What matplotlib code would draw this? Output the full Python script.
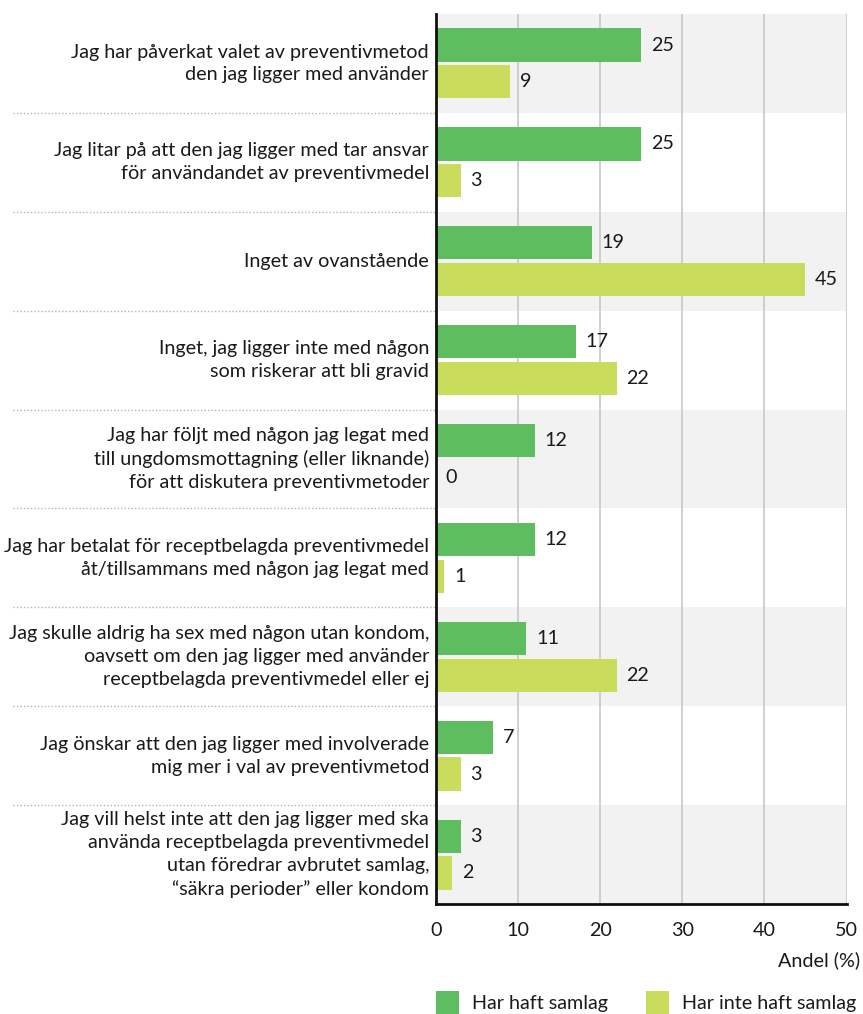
import matplotlib
matplotlib.use("Agg")
import matplotlib.pyplot as plt
from matplotlib.patches import Rectangle
import matplotlib.transforms as mtransforms

plt.rcParams['font.family'] = ['Lato', 'DejaVu Sans']

categories = [
    "Jag har påverkat valet av preventivmetod\nden jag ligger med använder",
    "Jag litar på att den jag ligger med tar ansvar\nför användandet av preventivmedel",
    "Inget av ovanstående",
    "Inget, jag ligger inte med någon\nsom riskerar att bli gravid",
    "Jag har följt med någon jag legat med\ntill ungdomsmottagning (eller liknande)\nför att diskutera preventivmetoder",
    "Jag har betalat för receptbelagda preventivmedel\nåt/tillsammans med någon jag legat med",
    "Jag skulle aldrig ha sex med någon utan kondom,\noavsett om den jag ligger med använder\nreceptbelagda preventivmedel eller ej",
    "Jag önskar att den jag ligger med involverade\nmig mer i val av preventivmetod",
    "Jag vill helst inte att den jag ligger med ska\nanvända receptbelagda preventivmedel\nutan föredrar avbrutet samlag,\n“säkra perioder” eller kondom",
]
har_haft = [25, 25, 19, 17, 12, 12, 11, 7, 3]
har_inte_haft = [9, 3, 45, 22, 0, 1, 22, 3, 2]
series_names = ["Har haft samlag", "Har inte haft samlag"]
xticks = [0, 10, 20, 30, 40, 50]
xlabel = "Andel (%)"

GREEN = "#5dbd5f"
YELLOW = "#c9dc5b"
BAND = "#f1f2f1"
TXT = "#1a1a1a"
FS = 14.2

W, H = 863, 1014
fig = plt.figure(figsize=(W / 100, H / 100), dpi=100)
ax_left, ax_right = 436 / W, 846.5 / W
ax_top, ax_bottom = 1 - 14 / H, 1 - 904 / H
ax = fig.add_axes([ax_left, ax_bottom, ax_right - ax_left, ax_top - ax_bottom])

n = len(categories)
ax.set_ylim(n - 0.5, -0.5)
ax.set_xlim(0, 50)

for i in range(n):
    if i % 2 == 0:
        ax.axhspan(i - 0.5, i + 0.5, color=BAND, zorder=0, lw=0)

for t in xticks[1:]:
    ax.axvline(t, color="#c4c4c4", lw=1.1, zorder=1)

bh = 0.335
off = 0.186
ys = list(range(n))
b1 = ax.barh([y - off for y in ys], har_haft, height=bh, color=GREEN, zorder=2)
b2 = ax.barh([y + off for y in ys], har_inte_haft, height=bh, color=YELLOW, zorder=2)

for bars, vals in ((b1, har_haft), (b2, har_inte_haft)):
    for rect, v in zip(bars, vals):
        ax.annotate(str(v), xy=(rect.get_width(), rect.get_y() + rect.get_height() / 2),
                    xytext=(7, 0), textcoords="offset points", ha="left", va="center",
                    fontsize=FS, color=TXT, zorder=3)

# category labels
trans_lab = mtransforms.blended_transform_factory(fig.transFigure, ax.transData)
for i, lab in enumerate(categories):
    ax.text(429 / W, i, lab, transform=trans_lab, ha="right", va="center",
            fontsize=FS, color=TXT, linespacing=1.42, clip_on=False)

# dotted separators in label area
for i in range(1, n):
    ax.plot([13 / W, 436 / W], [i - 0.5, i - 0.5], transform=trans_lab, color="#b5b5b5",
            lw=1, ls=(0, (1, 1.5)), clip_on=False, zorder=1)

ax.set_yticks([])
ax.set_xticks(xticks)
ax.set_xticklabels([str(t) for t in xticks], fontsize=FS, color=TXT)
ax.tick_params(axis="x", length=0, pad=13)
for s in ("top", "right"):
    ax.spines[s].set_visible(False)
ax.spines["left"].set_linewidth(2)
ax.spines["bottom"].set_linewidth(2)
ax.spines["left"].set_color("#111111")
ax.spines["bottom"].set_color("#111111")
ax.spines["left"].set_zorder(4)

fig.text(860 / W, 1 - 960 / H, xlabel, ha="right", va="center", fontsize=FS, color=TXT)

# legend
for x0, col, name in ((436, GREEN, series_names[0]), (646, YELLOW, series_names[1])):
    fig.patches.append(Rectangle((x0 / W, 1 - 1014 / H), 23 / W, 23 / H,
                                 transform=fig.transFigure, color=col, lw=0))
    fig.text((x0 + 36) / W, 1 - 1003 / H, name, ha="left", va="center", fontsize=FS, color=TXT)

fig.savefig("out.png", dpi=100)
